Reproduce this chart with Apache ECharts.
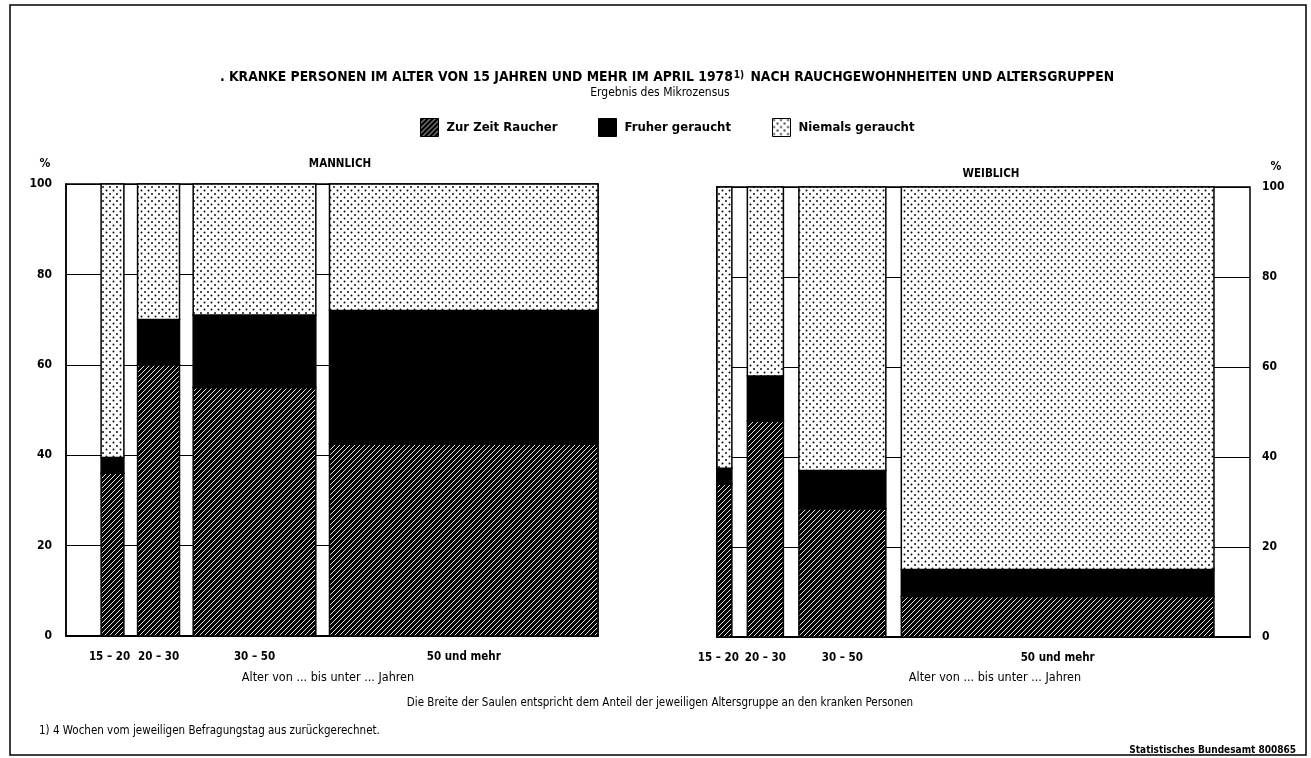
<!DOCTYPE html>
<html>
<head>
<meta charset="utf-8">
<script src="https://cdn.jsdelivr.net/npm/echarts@6/dist/echarts.min.js"></script>
<style>
html,body{margin:0;padding:0;background:#fff;}
#chart{width:1311px;height:758px;}
</style>
</head>
<body>
<div id="chart"></div>
<script>
// ---- data ----
const ageGroups = ['15 – 20', '20 – 30', '30 – 50', '50 und mehr'];
const seriesNames = ['Zur Zeit Raucher', 'Fruher geraucht', 'Niemals geraucht'];
// width of columns = share of age group among sick persons (%)
const maleShare = [5.0, 9.2, 26.9, 58.9];
const maleRaucher = [36, 60, 55, 42.5];
const maleFrueher = [3.5, 10, 16, 29.5];
const maleNiemals = [60.5, 30, 29, 28];
const femaleShare = [3.3, 8.0, 19.3, 69.4];
const femaleRaucher = [34, 48, 28.5, 9];
const femaleFrueher = [3.5, 10, 8.5, 6];
const femaleNiemals = [62.5, 42, 63, 85];
const yTicks = [0, 20, 40, 60, 80, 100];

const FONT = "'Liberation Sans Narrow', 'DejaVu Sans Condensed', 'Arial Narrow', sans-serif";

// ---- patterns ----
function hatchPattern() {
  const c = document.createElement('canvas'); c.width = 5; c.height = 5;
  const g = c.getContext('2d');
  g.fillStyle = '#000'; g.fillRect(0, 0, 5, 5);
  g.strokeStyle = '#fff'; g.lineWidth = 0.9;
  g.beginPath();
  g.moveTo(0, 5); g.lineTo(5, 0);
  g.moveTo(-1, 1); g.lineTo(1, -1);
  g.moveTo(4, 6); g.lineTo(6, 4);
  g.stroke();
  return c;
}
function dotPattern() {
  const c = document.createElement('canvas'); c.width = 7; c.height = 7;
  const g = c.getContext('2d');
  g.fillStyle = '#fff'; g.fillRect(0, 0, 7, 7);
  g.fillStyle = '#000';
  g.beginPath(); g.arc(1.5, 1.5, 0.95, 0, Math.PI * 2); g.fill();
  g.beginPath(); g.arc(5, 5, 0.95, 0, Math.PI * 2); g.fill();
  return c;
}
const fills = [
  { image: hatchPattern(), repeat: 'repeat' },
  '#000',
  { image: dotPattern(), repeat: 'repeat' }
];

// ---- layout of mosaic (axis units) ----
const panels = [
  { share: maleShare, vals: [maleRaucher, maleFrueher, maleNiemals], gap: 3.0, padLeft: 7.7, padRight: 0, labelShift: [-3, 0, 0, 0] },
  { share: femaleShare, vals: [femaleRaucher, femaleFrueher, femaleNiemals], gap: 3.44, padLeft: 0, padRight: 8, labelShift: [-6, 0, 0, 0] }
];
panels.forEach(p => {
  let x = p.padLeft;
  p.x0 = []; p.x1 = [];
  p.share.forEach((s, i) => {
    p.x0.push(x); p.x1.push(x + s);
    x += s + (i < p.share.length - 1 ? p.gap : 0);
  });
  p.max = x + p.padRight;
});

function rectRender(fill) {
  return function (params, api) {
    const a = api.coord([api.value(0), api.value(3)]);
    const b = api.coord([api.value(1), api.value(2)]);
    return {
      type: 'rect',
      shape: { x: a[0], y: a[1], width: b[0] - a[0], height: b[1] - a[1] },
      style: { fill: fill, stroke: '#000', lineWidth: 1.5 }
    };
  };
}
function labelRenderFor(p) {
  return function (params, api) {
    const i = api.value(2);
    const a = api.coord([(api.value(0) + api.value(1)) / 2, 0]);
    return {
      type: 'text',
      style: {
        x: a[0] + p.labelShift[i], y: a[1] + 21, text: ageGroups[i],
        align: 'center', verticalAlign: 'middle',
        font: 'bold 11.5px ' + FONT, fill: '#000'
      }
    };
  };
}

const series = [];
panels.forEach((p, pi) => {
  for (let k = 0; k < 3; k++) {
    const data = p.share.map((s, i) => {
      let base = 0;
      for (let j = 0; j < k; j++) base += p.vals[j][i];
      return [p.x0[i], p.x1[i], base, k === 2 ? 100 : base + p.vals[k][i]];
    });
    series.push({
      type: 'custom', name: seriesNames[k],
      xAxisIndex: pi, yAxisIndex: pi,
      renderItem: rectRender(fills[k]),
      itemStyle: { color: fills[k], borderColor: '#000', borderWidth: 1 },
      encode: { x: [0, 1], y: [2, 3] },
      data: data, z: 3, silent: true
    });
  }
  series.push({
    type: 'custom', xAxisIndex: pi, yAxisIndex: pi,
    renderItem: labelRenderFor(p), encode: { x: [0, 1] },
    data: p.share.map((s, i) => [p.x0[i], p.x1[i], i]), z: 4, silent: true
  });
});

const axisTxt = { color: '#000', fontFamily: FONT, fontWeight: 'bold', fontSize: 12 };

const option = {
  backgroundColor: '#fff',
  animation: false,
  title: [
    { text: '. KRANKE PERSONEN IM ALTER VON 15 JAHREN UND MEHR IM APRIL 1978{s|1)} NACH RAUCHGEWOHNHEITEN UND ALTERSGRUPPEN',
      left: 662, top: 65, textAlign: 'center',
      textStyle: { fontFamily: FONT, fontWeight: 'bold', fontSize: 13.8, color: '#000',
        rich: { s: { fontFamily: FONT, fontWeight: 'bold', fontSize: 10, verticalAlign: 'top', lineHeight: 10, padding: [0, 2, 5, 1] } } } },
    { text: 'Ergebnis des Mikrozensus', left: 655, top: 82, textAlign: 'center',
      textStyle: { fontFamily: FONT, fontWeight: 'normal', fontSize: 12, color: '#000' } },
    { text: 'MANNLICH', left: 335, top: 153, textAlign: 'center',
      textStyle: { fontFamily: FONT, fontWeight: 'bold', fontSize: 11.5, color: '#000' } },
    { text: 'WEIBLICH', left: 986, top: 163, textAlign: 'center',
      textStyle: { fontFamily: FONT, fontWeight: 'bold', fontSize: 11.5, color: '#000' } },
    { text: '%', left: 40, top: 153, textAlign: 'center',
      textStyle: { fontFamily: FONT, fontWeight: 'bold', fontSize: 12, color: '#000' } },
    { text: '%', left: 1271, top: 156, textAlign: 'center',
      textStyle: { fontFamily: FONT, fontWeight: 'bold', fontSize: 12, color: '#000' } },
    { text: 'Alter von ... bis unter ... Jahren', left: 323, top: 666, textAlign: 'center',
      textStyle: { fontFamily: FONT, fontWeight: 'normal', fontSize: 12.5, color: '#000' } },
    { text: 'Alter von ... bis unter ... Jahren', left: 990, top: 666, textAlign: 'center',
      textStyle: { fontFamily: FONT, fontWeight: 'normal', fontSize: 12.5, color: '#000' } },
    { text: 'Die Breite der Saulen entspricht dem Anteil der jeweiligen Altersgruppe an den kranken Personen',
      left: 655, top: 692, textAlign: 'center',
      textStyle: { fontFamily: FONT, fontWeight: 'normal', fontSize: 11.5, color: '#000' } },
    { text: '1) 4 Wochen vom jeweiligen Befragungstag aus zurückgerechnet.', left: 34, top: 720,
      textStyle: { fontFamily: FONT, fontWeight: 'normal', fontSize: 11.5, color: '#000' } },
    { text: 'Statistisches Bundesamt 800865', right: 10, top: 740,
      textStyle: { fontFamily: FONT, fontWeight: 'bold', fontSize: 10, color: '#000' } }
  ],
  legend: [
    { data: [seriesNames[0]], left: 415, top: 113 },
    { data: [seriesNames[1]], left: 593, top: 113 },
    { data: [seriesNames[2]], left: 767, top: 113 }
  ].map(l => Object.assign(l, {
    icon: 'rect', itemWidth: 18, itemHeight: 18, itemGap: 10, selectedMode: false,
    textStyle: { fontFamily: FONT, fontSize: 13, fontWeight: 'bold', color: '#000', padding: [0, 0, 0, 3] },
    itemStyle: { borderColor: '#000', borderWidth: 1 }
  })),
  grid: [
    { left: 66, right: 1311 - 598, top: 184, bottom: 758 - 636, show: true, borderColor: '#000', borderWidth: 1.5, backgroundColor: '#fff' },
    { left: 717, right: 1311 - 1250, top: 187, bottom: 758 - 637, show: true, borderColor: '#000', borderWidth: 1.5, backgroundColor: '#fff' }
  ],
  xAxis: panels.map((p, i) => ({
    type: 'value', gridIndex: i, min: 0, max: p.max,
    axisLine: { show: true, onZero: false, lineStyle: { color: '#000', width: 2 } },
    axisTick: { show: false }, axisLabel: { show: false }, splitLine: { show: false }
  })),
  yAxis: [0, 1].map(i => ({
    type: 'value', gridIndex: i, min: yTicks[0], max: yTicks[yTicks.length - 1], interval: 20,
    position: i === 0 ? 'left' : 'right',
    axisLine: { show: true, lineStyle: { color: '#000', width: 1.5 } },
    axisTick: { show: false },
    axisLabel: Object.assign({ margin: i === 0 ? 14 : 12 }, axisTxt),
    splitLine: { show: true, lineStyle: { color: '#000', width: 1 } }
  })),
  graphic: [
    { type: 'rect', shape: { x: 10, y: 5, width: 1296, height: 750 },
      style: { fill: 'none', stroke: '#000', lineWidth: 1.5 }, silent: true, z: 0 }
  ],
  series: series
};

const chart = echarts.init(document.getElementById('chart'), null, { renderer: 'canvas' });
chart.setOption(option);
</script>
</body>
</html>
